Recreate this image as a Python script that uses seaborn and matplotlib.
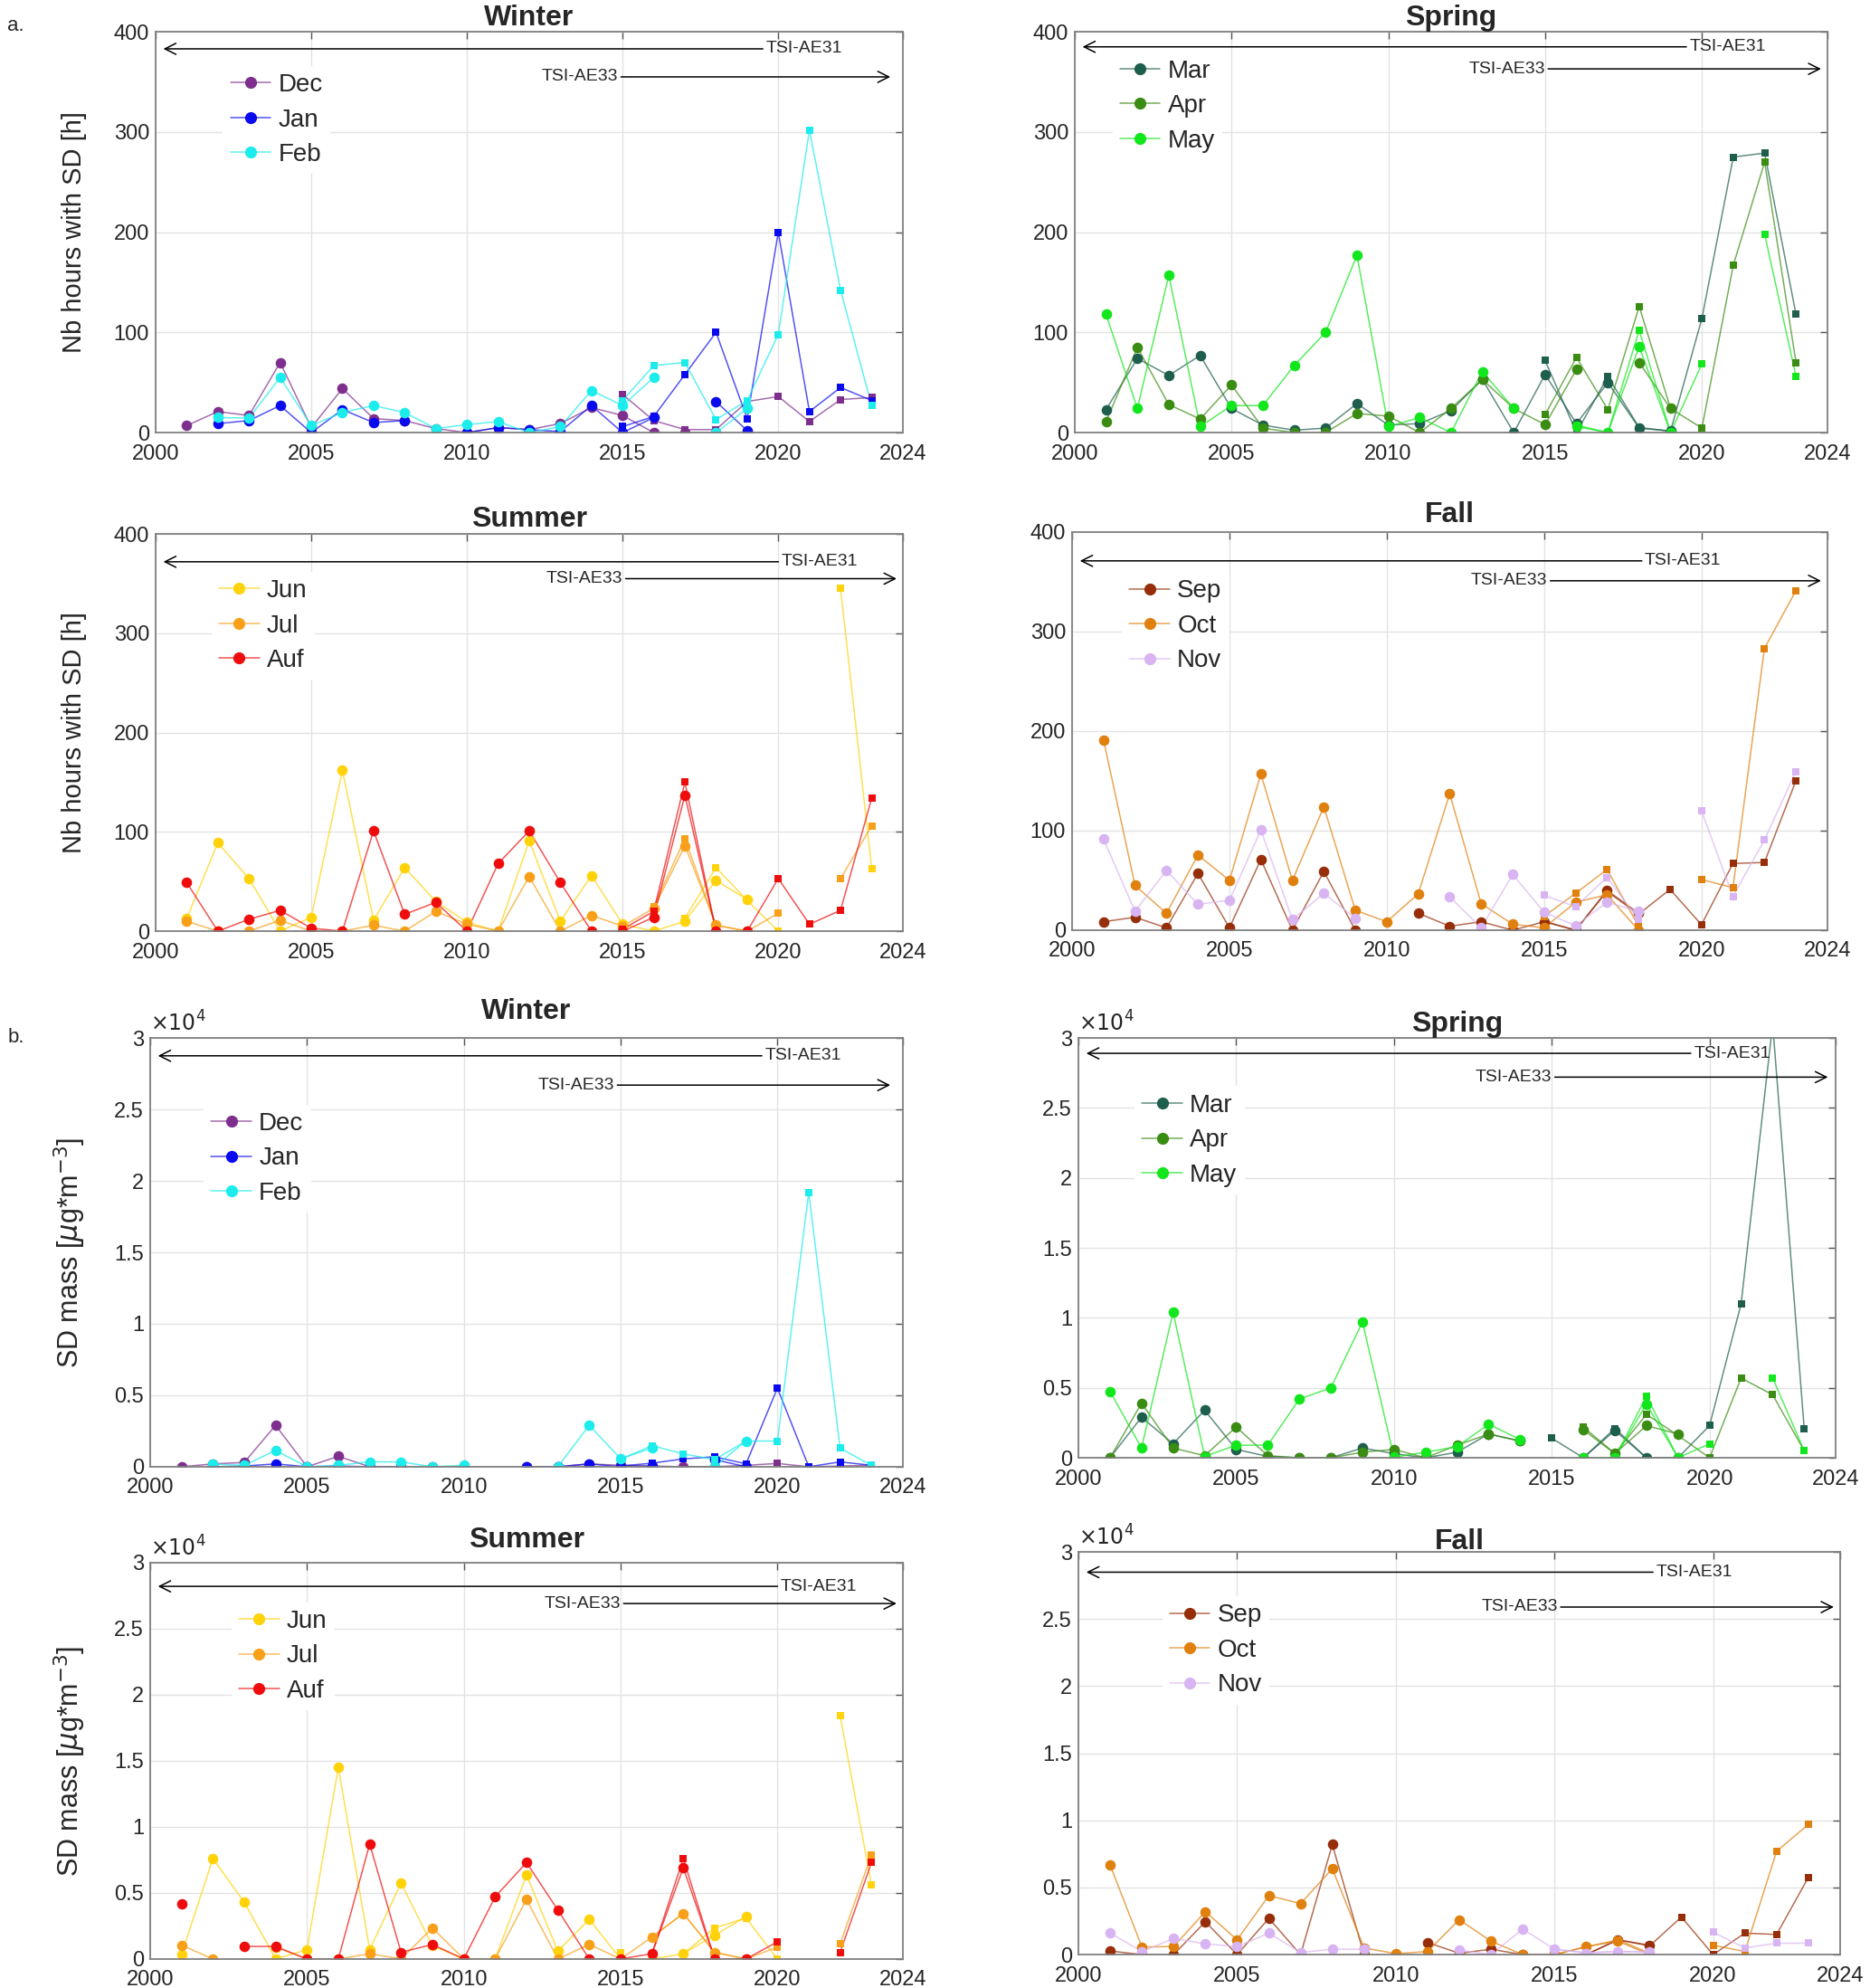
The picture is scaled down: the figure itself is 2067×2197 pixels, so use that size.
import numpy as np
import pandas as pd
import matplotlib
matplotlib.use("agg")
import matplotlib.pyplot as plt
from matplotlib.lines import Line2D
from matplotlib.colors import to_rgba
from matplotlib.ticker import FuncFormatter
import seaborn as sns

nan = np.nan

# AE31 circles cover 2001-2019, AE33 squares cover 2015-2023
years31 = list(range(2001, 2020))
years33 = list(range(2015, 2024))

# ---- a. number of hours with SD [h] ----
hours_dec_31 = [7, 21, 17, 70, 5, 44, 14, 12, 4, 0, 5, 3, 9, 25, 17, 0, 0, 0, nan]
hours_dec_33 = [38, 12, 3, 3, 31, 36, 11, 33, 35]
hours_jan_31 = [nan, 9, 12, 27, 0, 23, 10, 12, nan, 0, 5, 3, 1, 27, 0, 15, nan, 31, 2]
hours_jan_33 = [6, 16, 58, 100, 14, 200, 21, 45, 32]
hours_feb_31 = [nan, 15, 14.5, 55, 7, 20, 27, 20, 4, 8, 11, 0, 6, 42, 27, 55, nan, 0, 24]
hours_feb_33 = [32, 67, 70, 13, 32, 98, 302, 142, 27]

hours_mar_31 = [23, 74, 57, 77, 24, 7.5, 2.4, 4.5, 29, 7.5, 9, 22, 53, 0, 58, 9, 50, 4.5, 1.5]
hours_mar_33 = [72, 0, 56, 5, 1.5, 114, 275, 279, 118]
hours_apr_31 = [11, 85, 28, 13.5, 47.5, 4.5, 0, 0, 19, 16.5, 0, 24, 53, 24, 8, 63, nan, 70, 24]
hours_apr_33 = [18, 75, 23, 126, 24, 4.5, 167, 270, 70]
hours_may_31 = [118, 24, 157, 6, 27, 27, 67, 100, 177, 6, 15, 0, 61, 24, nan, 6, 0, 86, 0]
hours_may_33 = [nan, 7.5, 0, 102, 0, 68.5, nan, 198, 56]

hours_jun_31 = [13, 89, 53, 0, 14, 162, 11, 64, 30, 9, 0, 91, 10, 56, 7, 0, 10, 51, 32]
hours_jun_33 = [nan, nan, 13, 64, 31, 0, nan, 345, 63]
hours_jul_31 = [10, 0, 0, 11, 0, 0, 6, 0, 20, 7, 0, 55, 0, 16, 5, 23, 86, 6, 0]
hours_jul_33 = [nan, 25, 93, 6, 0, 18, nan, 53, 106]
hours_aug_31 = [49, 0, 12, 21, 3, 0, 101, 17, 29, 0, 68, 101, 49, 0, 0, 14, 137, 0, 0]
hours_aug_33 = [2, 20, 150, 0, 0, 53, 7, 21, 134]

hours_sep_31 = [8.5, 13, 2.4, 57, 2.4, 71, 0, 59, 0, nan, 17, 4, 8.5, 0, 8.5, 0, 40, 17, nan]
hours_sep_33 = [9, 0, 39, 16, 41, 5.5, 67, 68, 150]
hours_oct_31 = [191, 45, 17, 75.5, 50, 157, 50, 124, 20, 8.5, 36.5, 137, 26.6, 6, 2.4, 28, 35.6, 0, nan]
hours_oct_33 = [14, 37, 61, 4, nan, 51, 42.6, 283, 341]
hours_nov_31 = [91.5, 19, 60, 26, 30, 100.6, 10.6, 37, 12, nan, nan, 33.5, 2.4, 56, 18, 4.5, 28, 19, nan]
hours_nov_33 = [35, 23.6, 53, 10.6, nan, 120, 34, 90.6, 159.5]

# ---- b. SD mass [x1e4 ug m-3] ----
mass_dec_31 = [0, 0.02, 0.03, 0.29, 0, 0.073, 0, 0, 0, 0, nan, 0, 0, 0.02, 0.01, 0, 0, 0, nan]
mass_dec_33 = [0.01, 0.005, 0, 0, 0.01, 0.023, 0, 0.005, 0.01]
mass_jan_31 = [nan, 0, 0.005, 0.02, 0, 0.005, 0, 0, nan, 0, nan, 0, 0, 0.02, 0, 0.005, nan, 0.05, 0]
mass_jan_33 = [0.005, 0.025, 0.055, 0.07, 0.02, 0.55, 0, 0.034, 0.01]
mass_feb_31 = [nan, 0.018, 0.01, 0.114, 0, 0.01, 0.034, 0.034, 0, 0.01, nan, nan, 0, 0.29, 0.057, 0.13, nan, 0, 0.18]
mass_feb_33 = [0.052, 0.148, 0.09, 0.05, 0.18, 0.18, 1.92, 0.13, 0.01]

mass_mar_31 = [0, 0.29, 0.1, 0.34, 0.06, 0.01, 0, 0, 0.07, 0.03, 0, 0.04, 0.17, 0.12, nan, 0, 0.195, 0, 0]
mass_mar_33 = [0.14, 0, 0.21, 0, 0, 0.23, 1.1, 3.1, 0.206]
mass_apr_31 = [0, 0.39, 0.07, 0.015, 0.22, 0.015, 0, 0, 0.04, 0.06, 0, 0.09, 0.17, 0.12, nan, 0.2, 0.03, 0.23, 0.17]
mass_apr_33 = [nan, 0.22, 0.03, 0.31, 0.16, 0, 0.57, 0.45, 0.05]
mass_may_31 = [0.475, 0.07, 1.04, 0.01, 0.09, 0.09, 0.42, 0.5, 0.97, 0.005, 0.04, 0.08, 0.24, 0.13, nan, 0, 0, 0.385, 0]
mass_may_33 = [nan, 0, 0, 0.44, 0, 0.1, nan, 0.57, 0.05]

mass_jun_31 = [0.034, 0.76, 0.43, 0, 0.07, 1.45, 0.07, 0.575, 0.1, 0, 0, 0.635, 0.06, 0.3, 0, 0, 0.04, 0.18, 0.32]
mass_jun_33 = [0.05, nan, 0.04, 0.235, 0.31, 0, nan, 1.84, 0.56]
mass_jul_31 = [0.105, 0, nan, 0.09, 0, 0, 0.04, 0, 0.235, 0, 0, 0.45, 0, 0.11, 0, 0.165, 0.345, 0.05, 0]
mass_jul_33 = [nan, 0.165, 0.345, 0.05, 0, 0.09, nan, 0.115, 0.79]
mass_aug_31 = [0.42, nan, 0.095, 0.095, 0, 0, 0.87, 0.05, 0.11, 0, 0.47, 0.73, 0.37, 0, 0, 0.04, 0.69, 0, 0]
mass_aug_33 = [nan, 0.04, 0.76, 0, 0, 0.13, nan, 0.05, 0.73]

mass_sep_31 = [0.027, 0, 0, 0.245, 0, 0.27, 0, 0.82, 0, nan, 0.09, 0.01, 0.04, 0, 0, 0, 0.11, 0.07, nan]
mass_sep_33 = [nan, 0, 0.11, 0.065, 0.28, 0, 0.16, 0.15, 0.575]
mass_oct_31 = [0.667, 0.057, 0.06, 0.32, 0.11, 0.44, 0.38, 0.64, 0.05, 0.007, 0.023, 0.26, 0.1, 0, 0, 0.06, 0.1, 0, nan]
mass_oct_33 = [0, 0.057, 0.11, 0.01, nan, 0.07, 0.023, 0.77, 0.97]
mass_nov_31 = [0.16, 0.023, 0.12, 0.08, 0.06, 0.16, 0.016, 0.04, 0.04, nan, nan, 0.034, 0, 0.19, 0.04, 0.01, 0.023, 0.023, nan]
mass_nov_33 = [0.04, 0.016, 0.023, 0.015, nan, 0.167, 0.05, 0.085, 0.085]

MASS_SCALE = 1e4

COLORS = {"Dec": "#7E2F8E", "Jan": "#0A0AEE", "Feb": "#1CECEC",
          "Mar": "#1E5E4C", "Apr": "#3A8C12", "May": "#12E61C",
          "Jun": "#FFD20A", "Jul": "#F8A01A", "Auf": "#EE0C0C",
          "Sep": "#962E0A", "Oct": "#E0800E", "Nov": "#D8B4F2"}

NARROW = ["Liberation Sans Narrow", "Liberation Sans", "DejaVu Sans"]


def plot_series(ax, years, vals, color, marker, size):
    df = pd.DataFrame({"year": years, "val": vals})
    df["seg"] = df["val"].isna().cumsum()
    df = df.dropna()
    sns.lineplot(data=df, x="year", y="val", units="seg", estimator=None,
                 color=color, lw=1.1, alpha=0.7, ax=ax, legend=False, sort=False)
    sns.scatterplot(data=df, x="year", y="val", color=color, marker=marker,
                    s=size, linewidth=0, ax=ax, legend=False, zorder=2.5)


def draw_panel(ax, p, is_mass):
    scale = MASS_SCALE if is_mass else 1
    for name, v31, v33 in p["series"]:
        c = COLORS[name]
        plot_series(ax, years31, np.array(v31, dtype=float) * scale, c, "o", 70)
        plot_series(ax, years33, np.array(v33, dtype=float) * scale, c, "s", 32)

    ax.set_xlim(2000, 2024)
    ax.set_xticks([2000, 2005, 2010, 2015, 2020, 2024])
    if is_mass:
        ax.set_ylim(0, 3 * MASS_SCALE)
        ax.set_yticks(np.arange(0, 3.01, 0.5) * MASS_SCALE)
        ax.yaxis.set_major_formatter(FuncFormatter(lambda v, pos: f"{v / MASS_SCALE:g}"))
        ax.text(0.0, 1.005, r"$\times10^{4}$", transform=ax.transAxes,
                ha="left", va="bottom", fontsize=17, color="#262626")
    else:
        ax.set_ylim(0, 400)
        ax.set_yticks([0, 100, 200, 300, 400])
    ax.set_xlabel("")
    ax.set_ylabel("")
    ax.grid(True, color="#e3e3e3", lw=1.0)
    ax.set_axisbelow(True)
    for s in ax.spines.values():
        s.set_color("#808080")
        s.set_linewidth(1.3)
    ax.tick_params(direction="in", length=6, width=1.0, color="#555555",
                   top=True, right=True, labelsize=17, labelcolor="#262626")
    ax.tick_params(axis="x", pad=9)
    ax.tick_params(axis="y", pad=5)
    ax.set_title(p["title"], fontsize=23, fontweight="bold", family=NARROW, pad=p["pad"])

    # instrument period arrows
    x31, y31 = p["ae31"]
    ax.annotate("TSI-AE31", xy=(2000.25, y31 * scale), xytext=(x31, y31 * scale),
                ha="left", va="center", fontsize=14, family=NARROW,
                arrowprops=dict(arrowstyle="->", color="black", lw=1.1,
                                shrinkA=0, shrinkB=0, relpos=(0, 0.5), mutation_scale=22))
    x33, y33, xend = p["ae33"]
    ax.annotate("TSI-AE33", xy=(xend, y33 * scale), xytext=(x33, y33 * scale),
                ha="right", va="center", fontsize=14, family=NARROW,
                arrowprops=dict(arrowstyle="->", color="black", lw=1.1,
                                shrinkA=0, shrinkB=0, relpos=(1, 0.5), mutation_scale=22))

    handles = []
    for name, _, _ in p["series"]:
        c = COLORS[name]
        handles.append(Line2D([0], [0], color=to_rgba(c, 0.7), lw=1.1, marker="o",
                              markerfacecolor=c, markeredgecolor=c, markersize=8.5))
    lx, ly = p["legend"]
    ax.legend(handles, [n for n, _, _ in p["series"]], loc="upper left",
              bbox_to_anchor=(lx + 0.015, ly - 0.005), borderaxespad=0, frameon=True,
              fancybox=False, edgecolor="none", facecolor="white", framealpha=1,
              prop={"family": NARROW, "size": 20}, handlelength=1.6,
              handletextpad=0.3, labelspacing=0.45, borderpad=0.3)


sns.set_style("white")
plt.rcParams["font.family"] = ["Liberation Sans", "DejaVu Sans"]

fig = plt.figure(figsize=(20.67, 21.97), dpi=100)

panels_a = [
    dict(rect=[0.0832, 0.7824, 0.3996, 0.2016], title="Winter", pad=5,
         series=[("Dec", hours_dec_31, hours_dec_33), ("Jan", hours_jan_31, hours_jan_33),
                 ("Feb", hours_feb_31, hours_feb_33)],
         ae31=(2019.6, 383), ae33=(2014.85, 355, 2023.6), legend=(0.075, 0.92)),
    dict(rect=[0.5747, 0.7824, 0.4025, 0.2016], title="Spring", pad=5,
         series=[("Mar", hours_mar_31, hours_mar_33), ("Apr", hours_apr_31, hours_apr_33),
                 ("May", hours_may_31, hours_may_33)],
         ae31=(2019.6, 385), ae33=(2015.0, 363, 2023.8), legend=(0.035, 0.955)),
    dict(rect=[0.0832, 0.5316, 0.3996, 0.1998], title="Summer", pad=6,
         series=[("Jun", hours_jun_31, hours_jun_33), ("Jul", hours_jul_31, hours_jul_33),
                 ("Auf", hours_aug_31, hours_aug_33)],
         ae31=(2020.1, 372), ae33=(2015.0, 355, 2023.8), legend=(0.06, 0.91)),
    dict(rect=[0.5733, 0.5321, 0.4039, 0.2003], title="Fall", pad=8,
         series=[("Sep", hours_sep_31, hours_sep_33), ("Oct", hours_oct_31, hours_oct_33),
                 ("Nov", hours_nov_31, hours_nov_33)],
         ae31=(2018.2, 371), ae33=(2015.1, 351, 2023.8), legend=(0.051, 0.905)),
]
panels_b = [
    dict(rect=[0.0803, 0.2622, 0.4025, 0.2157], title="Winter", pad=15,
         series=[("Dec", mass_dec_31, mass_dec_33), ("Jan", mass_jan_31, mass_jan_33),
                 ("Feb", mass_feb_31, mass_feb_33)],
         ae31=(2019.6, 2.875), ae33=(2014.8, 2.67, 2023.6), legend=(0.056, 0.85)),
    dict(rect=[0.5767, 0.2667, 0.4050, 0.2112], title="Spring", pad=5,
         series=[("Mar", mass_mar_31, mass_mar_33), ("Apr", mass_apr_31, mass_apr_33),
                 ("May", mass_may_31, mass_may_33)],
         ae31=(2019.5, 2.89), ae33=(2015.0, 2.72, 2023.75), legend=(0.059, 0.89)),
    dict(rect=[0.0803, 0.0146, 0.4025, 0.1994], title="Summer", pad=12,
         series=[("Jun", mass_jun_31, mass_jun_33), ("Jul", mass_jul_31, mass_jul_33),
                 ("Auf", mass_aug_31, mass_aug_33)],
         ae31=(2020.1, 2.82), ae33=(2015.0, 2.69, 2023.8), legend=(0.093, 0.905)),
    dict(rect=[0.5767, 0.0168, 0.4073, 0.2025], title="Fall", pad=2,
         series=[("Sep", mass_sep_31, mass_sep_33), ("Oct", mass_oct_31, mass_oct_33),
                 ("Nov", mass_nov_31, mass_nov_33)],
         ae31=(2018.2, 2.85), ae33=(2015.1, 2.59, 2023.8), legend=(0.095, 0.895)),
]

axes_a = []
for p in panels_a:
    ax = fig.add_axes(p["rect"])
    draw_panel(ax, p, False)
    axes_a.append(ax)
axes_b = []
for p in panels_b:
    ax = fig.add_axes(p["rect"])
    draw_panel(ax, p, True)
    axes_b.append(ax)

for ax in (axes_a[0], axes_a[2]):
    ax.set_ylabel("Nb hours with SD [h]", fontsize=21, color="#262626")
    ax.yaxis.set_label_coords(-0.092, 0.5)
for ax in (axes_b[0], axes_b[2]):
    ax.set_ylabel(r"SD mass [$\mu$g*m$^{-3}$]", fontsize=22, color="#262626")
    ax.yaxis.set_label_coords(-0.083, 0.5)

fig.text(0.004, 1 - 28 / 2197, "a.", fontsize=16, va="center", ha="left")
fig.text(0.004, 1 - 1146 / 2197, "b.", fontsize=16, va="center", ha="left")

fig.savefig("out.png", dpi=100)
plt.close(fig)
